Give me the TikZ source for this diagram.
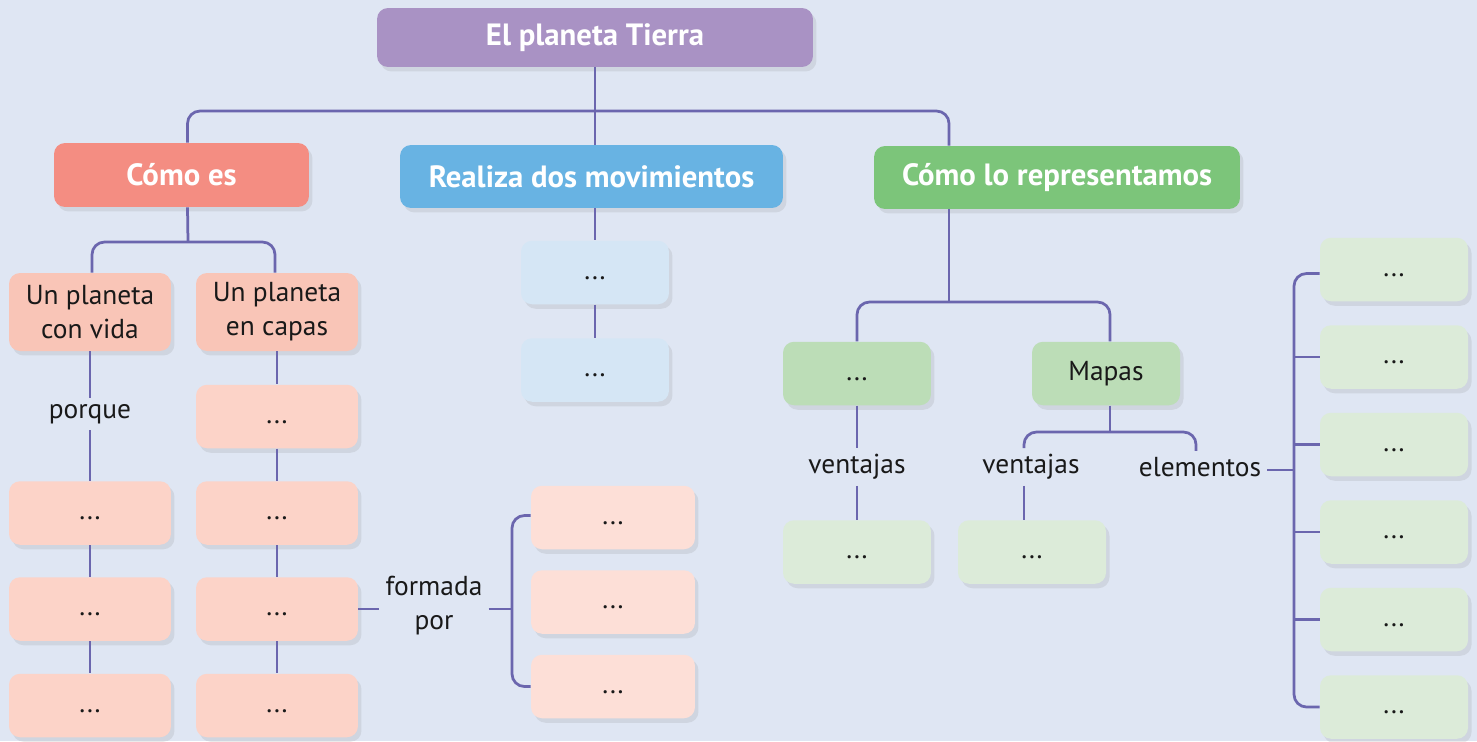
\documentclass[tikz,border=0pt]{standalone}
\usepackage{fontspec}
\setmainfont{PT Sans}
\usetikzlibrary{calc,shadows}
\definecolor{fondo}{HTML}{DFE6F3}
\definecolor{lineacol}{HTML}{6B66AE}
\definecolor{raizcol}{HTML}{A992C4}
\definecolor{rojo}{HTML}{F48D82}
\definecolor{rosa}{HTML}{F9C5B7}
\definecolor{rosaclaro}{HTML}{FCD3C8}
\definecolor{rosapalido}{HTML}{FDDFD7}
\definecolor{azul}{HTML}{68B3E3}
\definecolor{azulclaro}{HTML}{D5E6F5}
\definecolor{verde}{HTML}{7CC57A}
\definecolor{verdemedio}{HTML}{BCDDB7}
\definecolor{verdeclaro}{HTML}{DCEBD9}
\def\puntos{\strut...}
\tikzset{
	caja/.style={rounded corners=0.22cm, minimum width=2.96cm, minimum height=1.27cm,
		align=center, inner sep=0pt, text=black!90,
		font=\fontsize{15.6}{19.3}\selectfont,
		drop shadow={opacity=0.16, shadow xshift=0.07cm, shadow yshift=-0.09cm}},
	titulo/.style={caja, text=white, font=\bfseries\fontsize{17.5}{20}\selectfont},
	etiqueta/.style={align=center, inner sep=0.12cm, text=black!90,
		font=\fontsize{15.6}{19.3}\selectfont},
	linea/.style={draw=lineacol, line width=0.055cm}
}

\begin{document}
\begin{tikzpicture}[x=0.02cm, y=-0.02cm]
		%%%%% START %%%%%
		\fill[fondo] (0, 0) rectangle (1477, 741);
		\useasboundingbox (0, 0) rectangle (1477, 741);
		
		\node[titulo, fill=raizcol, minimum width=8.72cm, minimum height=1.18cm] (raiz) at (595, 37.5) {El planeta Tierra};
		\node[titulo, fill=rojo, minimum width=5.1cm, minimum height=1.28cm] (comoes) at (181.5, 175) {Cómo es};
		\node[titulo, fill=azul, minimum width=7.66cm, minimum height=1.26cm] (movim) at (591.5, 176.5) {Realiza dos movimientos};
		\node[titulo, fill=verde, minimum width=7.32cm, minimum height=1.26cm] (repres) at (1057, 177.5) {Cómo lo representamos};
		
		\coordinate (bus) at (595, 111);
		\draw[linea] (raiz.south) -- (raiz.south |- movim.north);
		\draw[linea, rounded corners=0.25cm] ($(comoes.north)+(6, 0)$) |- (bus) -| ($(repres.north)+(-108, 0)$);
		
		% como es
		\node[caja, fill=rosa, minimum width=3.24cm, minimum height=1.56cm] (vida) at (90, 312) {Un planeta\\con vida};
		\node[caja, fill=rosa, minimum width=3.24cm, minimum height=1.56cm] (capas) at (277, 312) {Un planeta\\en capas};
		\coordinate (bus2) at (188, 242);
		\draw[linea] ($(comoes.south)+(6, 0)$) -- (bus2);
		\draw[linea, rounded corners=0.25cm] ($(vida.north)+(2, 0)$) |- (bus2) -| ($(capas.north)+(-2, 0)$);
		
		\node[etiqueta] (porque) at (90, 414) {porque};
		\node[caja, fill=rosaclaro, minimum width=3.24cm] (viv1) at (90, 513) {\puntos};
		\node[caja, fill=rosaclaro, minimum width=3.24cm] (viv2) at (90, 609) {\puntos};
		\node[caja, fill=rosaclaro, minimum width=3.24cm] (viv3) at (90, 705.5) {\puntos};
		\draw[linea] (vida) -- (porque);
		\draw[linea] (porque) -- (viv1);
		\draw[linea] (viv1) -- (viv2);
		\draw[linea] (viv2) -- (viv3);
		
		\node[caja, fill=rosaclaro, minimum width=3.24cm] (cap1) at (277, 416.5) {\puntos};
		\node[caja, fill=rosaclaro, minimum width=3.24cm] (cap2) at (277, 513) {\puntos};
		\node[caja, fill=rosaclaro, minimum width=3.24cm] (cap3) at (277, 609) {\puntos};
		\node[caja, fill=rosaclaro, minimum width=3.24cm] (cap4) at (277, 705.5) {\puntos};
		\draw[linea] (capas) -- (cap1);
		\draw[linea] (cap1) -- (cap2);
		\draw[linea] (cap2) -- (cap3);
		\draw[linea] (cap3) -- (cap4);
		
		\node[etiqueta] (formada) at (434, 606) {formada\\por};
		\node[caja, fill=rosapalido, minimum width=3.28cm] (for1) at (613, 517.5) {\puntos};
		\node[caja, fill=rosapalido, minimum width=3.28cm] (for2) at (613, 602) {\puntos};
		\node[caja, fill=rosapalido, minimum width=3.28cm] (for3) at (613, 686.5) {\puntos};
		\coordinate (barra2) at (512, 609);
		\draw[linea] (cap3.east) -- (cap3.east -| formada.west);
		\draw[linea] (barra2 -| formada.east) -- (barra2);
		\draw[linea, rounded corners=0.25cm] ($(for1.west)+(0, -2)$) -| (barra2) |- (for3.west);
		
		% movimientos
		\node[caja, fill=azulclaro] (mov1) at (595, 272.5) {\puntos};
		\node[caja, fill=azulclaro] (mov2) at (595, 370) {\puntos};
		\draw[linea] (movim.south -| mov1) -- (mov1);
		\draw[linea] (mov1) -- (mov2);
		
		% representamos
		\node[caja, fill=verdemedio] (punto) at (857, 373.5) {\puntos};
		\node[caja, fill=verdemedio] (mapas) at (1106, 373.5) {Mapas};
		\coordinate (bus3) at (949, 302);
		\draw[linea] ($(repres.south)+(-108, 0)$) -- (bus3);
		\draw[linea, rounded corners=0.25cm] (punto.north) |- (bus3) -| ($(mapas.north)+(4, 0)$);
		
		\node[etiqueta] (vent1) at (857, 467) {ventajas};
		\node[caja, fill=verdeclaro] (vbox1) at (857, 552) {\puntos};
		\draw[linea] (punto) -- (vent1);
		\draw[linea] (vent1) -- (vbox1);
		
		\node[etiqueta] (vent2) at (1031, 467) {ventajas};
		\node[etiqueta] (elementos) at (1200, 467) {elementos};
		\node[caja, fill=verdeclaro] (vbox2) at (1032, 552) {\puntos};
		\coordinate (bus4) at (1110, 432);
		\draw[linea] ($(mapas.south)+(4, 0)$) -- (bus4);
		\draw[linea, rounded corners=0.25cm] ($(vent2.north)+(-7, 0)$) |- (bus4) -| ($(elementos.north)+(-4, 0)$);
		\draw[linea] ($(vent2.south)+(-7, 0)$) -- ($(vent2.south |- vbox2.north)+(-7, 0)$);
		
		\foreach \i in {1,...,6}
			\node[caja, fill=verdeclaro] (el\i) at (1394, 182 + 87.5*\i) {\puntos};
		\coordinate (barra3) at (1294, 470);
		\draw[linea] (barra3 -| elementos.east) -- (barra3);
		\draw[linea, rounded corners=0.25cm] ($(el1.west)+(0, 4)$) -| (barra3) |- (el6.west);
		\foreach \i in {2,...,5}
			\draw[linea] (el\i.west -| barra3) -- (el\i.west);
		
		%%%%% END %%%%%
	\end{tikzpicture}
\end{document}
